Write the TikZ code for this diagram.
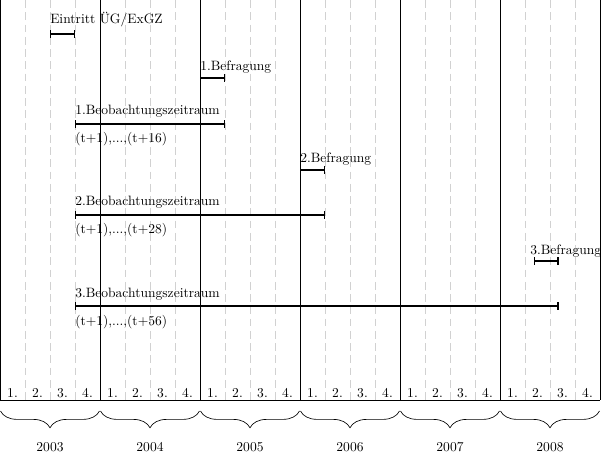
\documentclass[tikz,border=0pt]{standalone}
\usepackage{fontspec}
\usetikzlibrary{arrows.meta,decorations.pathreplacing}
\begin{document}
\begin{tikzpicture}[x=0.775pt,y=-0.775pt,
  every node/.style={font=\fontsize{10.5pt}{12.6pt}\selectfont},
  yearline/.style={draw=black,line width=0.5pt},
  qline/.style={draw=black!18,dash pattern=on 6pt off 3.5pt,line width=0.5pt},
  span/.style={line width=0.8pt,{Bar[width=6pt,line width=0.8pt]}-{Bar[width=6pt,line width=0.8pt]}},
  lab/.style={inner sep=0pt,anchor=base west},
  qlab/.style={inner sep=0pt,anchor=base},
  yearlab/.style={inner sep=0pt,anchor=center},
  yearbrace/.style={decorate,decoration={brace,mirror,amplitude=13pt},line width=0.5pt},
]
\useasboundingbox (0,0) rectangle (601,454);
% grid
\foreach \k in {0,...,5}{
  \foreach \q in {25,50,75}{
    \draw[qline] ({100*\k+\q},0) -- ({100*\k+\q},400);
  }
}
\foreach \k in {0,...,6}{
  \draw[yearline] ({100*\k},0) -- ({100*\k},400);
}
\draw[yearline] (0,400) -- (600,400);
% quarter labels
\foreach \k in {0,...,5}{
  \foreach \q in {1,...,4}{
    \node[qlab] (q\k\q) at ({100*\k+25*\q-12.5},397.5) {\q.};
  }
}
% braces and years
\foreach \k/\yr in {0/2003,1/2004,2/2005,3/2006,4/2007,5/2008}{
  \coordinate (bl\k) at ({100*\k+0.5},411);
  \coordinate (br\k) at ({100*\k+99.5},411);
  \draw[yearbrace] (bl\k) -- (br\k);
  \node[yearlab] (y\k) at ({100*\k+50},447) {\yr};
}
% intervals
\coordinate (ea) at (50,34);  \coordinate (eb) at (75,34);
\draw[span] (ea) -- (eb);
\node[lab] (le) at (50,24) {Eintritt \"UG/ExGZ};

\coordinate (b1a) at (200,78); \coordinate (b1b) at (225,78);
\draw[span] (b1a) -- (b1b);
\node[lab] (lb1) at (200,71) {1.Befragung};

\coordinate (o1a) at (75,124); \coordinate (o1b) at (225,124);
\draw[span] (o1a) -- (o1b);
\node[lab] (lo1) at (75,115) {1.Beobachtungszeitraum};
\node[lab] (lt1) at (75,143) {(t+1),...,(t+16)};

\coordinate (b2a) at (300,170); \coordinate (b2b) at (325,170);
\draw[span] (b2a) -- (b2b);
\node[lab] (lb2) at (300,163) {2.Befragung};

\coordinate (o2a) at (75,215); \coordinate (o2b) at (325,215);
\draw[span] (o2a) -- (o2b);
\node[lab] (lo2) at (75,206) {2.Beobachtungszeitraum};
\node[lab] (lt2) at (75,234) {(t+1),...,(t+28)};

\coordinate (b3a) at (533.5,261); \coordinate (b3b) at (558.5,261);
\draw[span] (b3a) -- (b3b);
\node[lab] (lb3) at (530,254) {3.Befragung};

\coordinate (o3a) at (75,306); \coordinate (o3b) at (558.5,306);
\draw[span] (o3a) -- (o3b);
\node[lab] (lo3) at (75,297) {3.Beobachtungszeitraum};
\node[lab] (lt3) at (75,325) {(t+1),...,(t+56)};
\end{tikzpicture}
\end{document}
